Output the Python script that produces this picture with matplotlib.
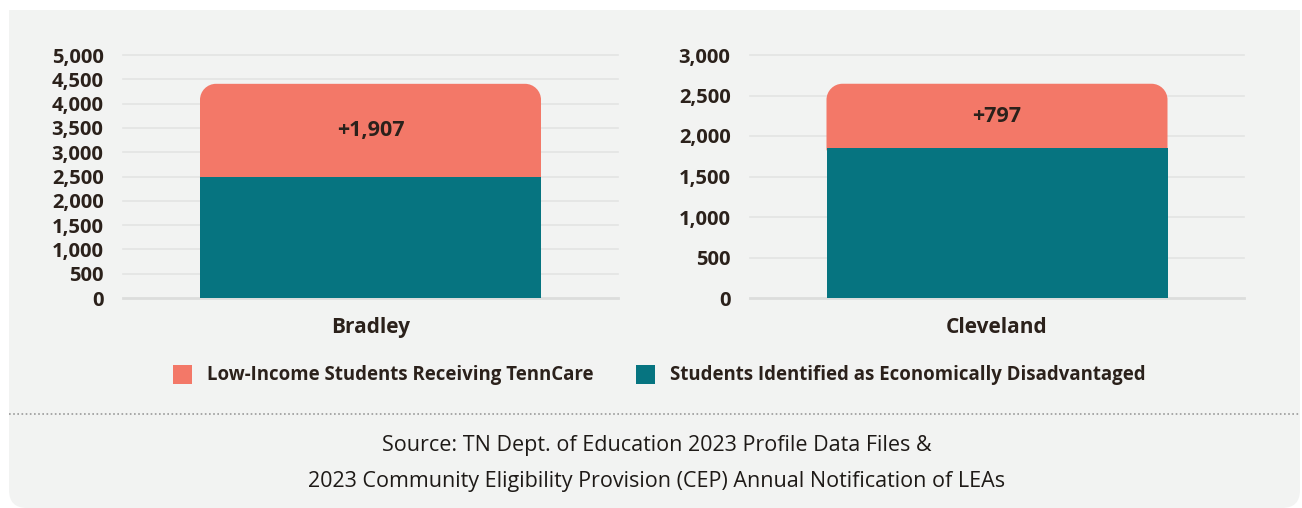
import matplotlib
matplotlib.use("Agg")
import matplotlib.pyplot as plt
from matplotlib.patches import FancyBboxPatch, Rectangle, PathPatch
from matplotlib.path import Path
from matplotlib.transforms import IdentityTransform
from matplotlib.ticker import FuncFormatter

# ---- data ----
districts = ["Bradley", "Cleveland"]
econ_disadv = [2500, 1848]          # Students Identified as Economically Disadvantaged
tenncare_extra = [1907, 797]        # Low-Income Students Receiving TennCare (additional)
ymax = [5000, 3000]
ystep = [500, 500]
legend_labels = ["Low-Income Students Receiving TennCare",
                 "Students Identified as Economically Disadvantaged"]
source_lines = ["Source: TN Dept. of Education 2023 Profile Data Files &",
                "2023 Community Eligibility Provision (CEP) Annual Notification of LEAs"]

# ---- style ----
RED = "#F37868"
TEAL = "#067480"
BG = "#F2F3F2"
TXT = "#2B211B"
GRID = "#E3E4E3"
FONT = "Open Sans"

W, H = 1302, 508
fig = plt.figure(figsize=(W / 100, H / 100), dpi=100)
fig.patch.set_facecolor("white")

# background panel: square top corners, rounded bottom corners (pixel coords)
panel = FancyBboxPatch((9, 0), 1291, H + 40,
                       boxstyle="round,pad=0,rounding_size=18",
                       transform=IdentityTransform(), facecolor=BG, edgecolor="none",
                       zorder=-2)
fig.add_artist(panel)
fig.add_artist(Rectangle((0, H - 10), W, 60, transform=IdentityTransform(),
                         facecolor="white", edgecolor="none", zorder=-1))

axes_px = [(123, 618), (750, 1244)]
y0_px, ytop_px = 298, 55


def rounded_top_path(x, y, w, h, rx, ry):
    k = 0.5523
    verts = [(x, y), (x, y + h - ry),
             (x, y + h - ry + k * ry), (x + rx - k * rx, y + h), (x + rx, y + h),
             (x + w - rx, y + h),
             (x + w - rx + k * rx, y + h), (x + w, y + h - ry + k * ry), (x + w, y + h - ry),
             (x + w, y), (x, y)]
    codes = [Path.MOVETO, Path.LINETO,
             Path.CURVE4, Path.CURVE4, Path.CURVE4,
             Path.LINETO,
             Path.CURVE4, Path.CURVE4, Path.CURVE4,
             Path.LINETO, Path.CLOSEPOLY]
    return Path(verts, codes)


for i, (xl, xr) in enumerate(axes_px):
    ax = fig.add_axes([xl / W, (H - y0_px) / H, (xr - xl) / W, (y0_px - ytop_px) / H])
    ax.set_facecolor("none")
    ax.set_xlim(-0.5, 0.5)
    ax.set_ylim(0, ymax[i])
    ticks = list(range(0, ymax[i] + 1, ystep[i]))
    ax.set_yticks(ticks)
    ax.yaxis.set_major_formatter(FuncFormatter(lambda v, p: f"{int(v):,}"))
    for t in ticks:
        if t == 0:
            ax.axhline(t, color="#DCDDDC", lw=2.0, zorder=1, clip_on=False)
        else:
            ax.axhline(t, color=GRID, lw=1.2, zorder=1, clip_on=False)
    bw = 341 / (xr - xl)
    ax.bar([0], [econ_disadv[i]], width=bw, color=TEAL, zorder=3)
    top = ax.bar([0], [tenncare_extra[i]], width=bw, bottom=[econ_disadv[i]],
                 color=RED, zorder=2.9)
    r = top.patches[0]
    r.set_visible(False)
    rx = 16 / (xr - xl)
    ry = 16 * ymax[i] / (y0_px - ytop_px)
    ov = 2 * ymax[i] / (y0_px - ytop_px)   # small overlap under teal to avoid seam
    ax.add_patch(PathPatch(rounded_top_path(r.get_x(), r.get_y() - ov, r.get_width(),
                                            r.get_height() + ov, rx, ry),
                           facecolor=RED, edgecolor="none", zorder=2.9))
    ax.text(0, econ_disadv[i] + tenncare_extra[i] / 2, f"+{tenncare_extra[i]:,}",
            ha="center", va="center", fontsize=15.5, fontweight="bold",
            family=FONT, color=TXT, zorder=4)
    ax.set_xticks([0])
    ax.set_xticklabels([districts[i]], fontsize=15, fontweight="bold", family=FONT, color=TXT)
    ax.tick_params(axis="x", length=0, pad=14)
    ax.tick_params(axis="y", length=0, pad=14, labelsize=14.5, labelcolor=TXT)
    for lab in ax.get_yticklabels():
        lab.set_fontfamily(FONT)
        lab.set_fontweight("bold")
    for s in ax.spines.values():
        s.set_visible(False)

# legend
leg_items = [(173, RED, legend_labels[0]), (636, TEAL, legend_labels[1])]
for x, c, lab in leg_items:
    fig.add_artist(Rectangle((x / W, (H - 384) / H), 19 / W, 19 / H,
                             transform=fig.transFigure, facecolor=c, edgecolor="none"))
    fig.text((x + 34) / W, (H - 375) / H, lab, ha="left", va="center",
             fontsize=13.4, fontweight="bold", family=FONT, color=TXT)

# dotted separator
fig.add_artist(plt.Line2D([9 / W, 1300 / W], [(H - 414) / H] * 2, transform=fig.transFigure,
                          color="#9A9A9A", lw=1.2, linestyle=(0, (1, 1.5))))

fig.text(657 / W, (H - 446) / H, source_lines[0], ha="center", va="center",
         fontsize=15.5, family=FONT, color="#1E1A17")
fig.text(657 / W, (H - 481) / H, source_lines[1], ha="center", va="center",
         fontsize=15.5, family=FONT, color="#1E1A17")

fig.savefig("out.png", dpi=100, facecolor="white")
